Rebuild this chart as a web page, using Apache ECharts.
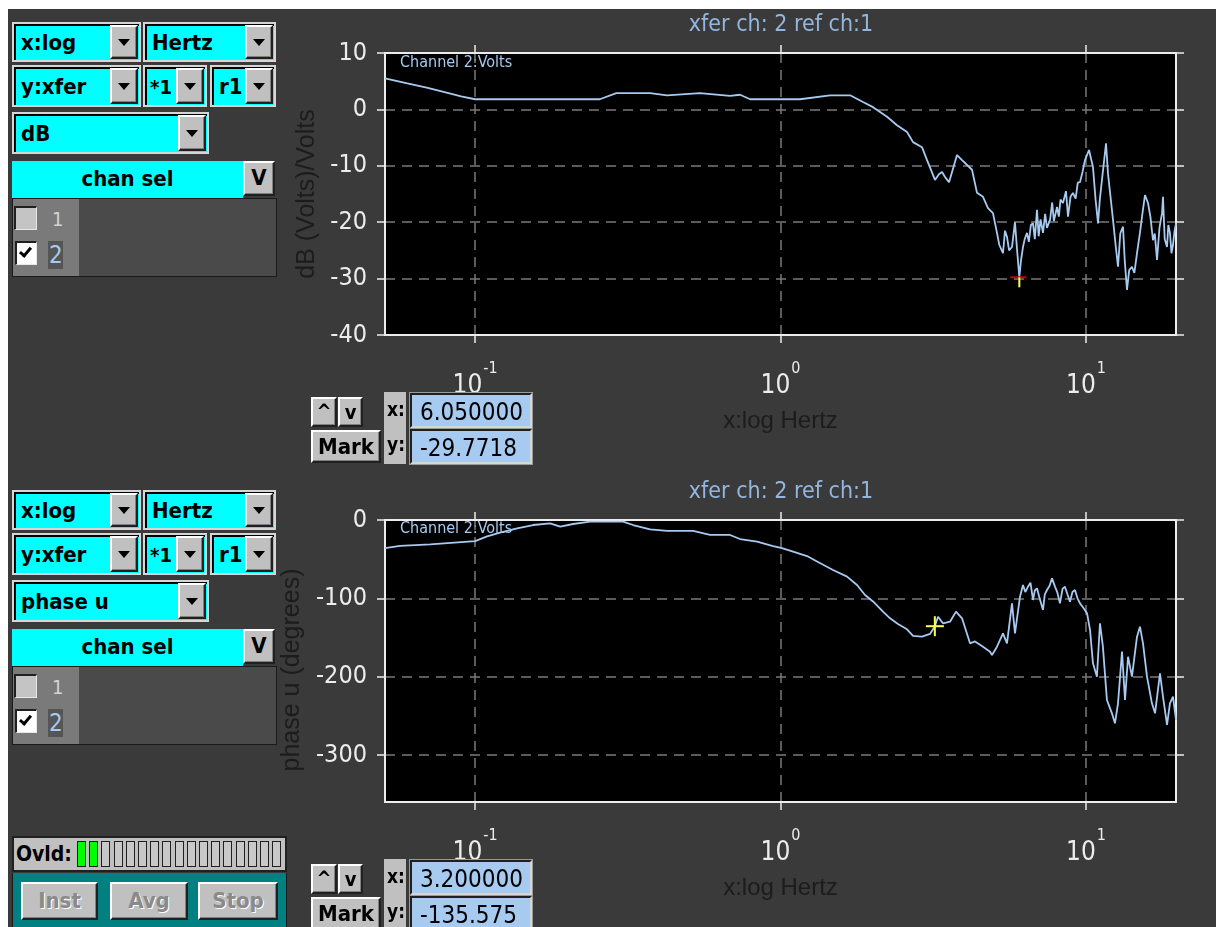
<!DOCTYPE html>
<html>
<head>
<meta charset="utf-8">
<title>xfer ch: 2 ref ch:1</title>
<script src="https://cdn.jsdelivr.net/npm/echarts@6/dist/echarts.min.js"></script>
<style>
  html, body { margin: 0; padding: 0; width: 1223px; height: 927px; overflow: hidden; background: #ffffff; }
  #frame { position: absolute; left: 8px; top: 9px; width: 1208px; height: 918px; background: #3a3a3a; }
  #chart { position: absolute; left: 0; top: 0; width: 1223px; height: 927px; }
  .ui { position: absolute; box-sizing: border-box; font-family: 'Liberation Sans Narrow', 'DejaVu Sans Condensed', sans-serif; font-weight: bold; color: #000; }
  .frame { background: #d6d6d6; }
  .well { position: absolute; left: 2px; top: 2px; right: 2px; bottom: 2px; background: #00ffff; border-top: 2px solid #000; border-left: 2px solid #000; box-sizing: border-box; }
  .btn { position: absolute; box-sizing: border-box; background: #c0c0c0; border: 2px solid; border-color: #ffffff #202020 #202020 #ffffff; box-shadow: inset -1px -1px 0 #808080; text-align: center; }
  .tri { position: absolute; left: 50%; top: 50%; width: 0; height: 0; margin-left: -6px; margin-top: -3px; border-left: 6px solid transparent; border-right: 6px solid transparent; border-top: 7px solid #000; }
  .txt { position: absolute; white-space: nowrap; }
</style>
</head>
<body>
<div id="frame"></div>
<div id="chart"></div>
<div id="ui"></div>
<script>
// ---------- data ----------
const freqMin = 0.0507;
const freqMax = 19.71;
const decadeTicks = [0.1, 1, 10];

// magnitude trace: frequency (Hz) and level (dB)
const magFreq = [
  0.0507, 0.06, 0.07, 0.08, 0.09, 0.1, 0.256, 0.29, 0.374, 0.425, 0.545, 0.683, 0.737, 0.795,
  1.158, 1.452, 1.689, 1.862, 2.008, 2.232, 2.406, 2.595, 2.715, 2.905, 3.017, 3.204, 3.30,
  3.378, 3.456, 3.562, 3.782, 3.928, 4.235, 4.398, 4.601, 4.777, 4.960, 5.112, 5.20, 5.349,
  5.43, 5.513, 5.60, 5.725, 5.855, 5.95, 6.05, 6.12, 6.219, 6.30, 6.409, 6.50, 6.60, 6.707,
  6.80, 6.912, 7.00, 7.10, 7.232, 7.35, 7.45, 7.625, 7.75, 7.85, 8.037, 8.15, 8.25, 8.408,
  8.60, 8.731, 8.90, 9.066, 9.25, 9.40, 9.559, 9.75, 9.925, 10.23, 10.54, 10.75, 10.95, 11.1,
  11.28, 11.63, 11.80, 12.26, 12.5, 12.73, 12.95, 13.22, 13.4, 13.62, 13.85, 14.14, 14.4,
  14.69, 15.02, 15.3, 15.60, 15.96, 16.25, 16.57, 16.8, 17.08, 17.4, 17.74, 17.87, 18.1,
  18.42, 18.6, 18.83, 19.05, 19.27, 19.5, 19.71
];
const magDb = [
  5.5, 4.6, 3.8, 3.0, 2.3, 1.8, 1.8, 2.9, 2.9, 2.5, 2.9, 2.4, 2.6, 1.8,
  1.8, 2.5, 2.5, 1.3, 0.4, -1.3, -2.8, -4.0, -5.8, -6.7, -9.0, -12.5, -11.5,
  -11.1, -12.0, -12.9, -8.1, -9.0, -10.7, -14.8, -15.5, -17.5, -18.4, -21.9, -24.0, -25.5,
  -21.5, -22.6, -25.0, -24.4, -20.0, -25.0, -29.7718, -27.0, -24.4, -23.0, -21.9, -23.5, -20.5, -20.2,
  -23.0, -17.8, -22.5, -19.5, -21.9, -18.5, -21.0, -19.6, -16.5, -19.8, -17.3, -19.0, -16.0, -16.6,
  -14.5, -19.0, -15.5, -14.8, -15.8, -13.0, -12.9, -11.0, -9.0, -7.2, -10.2, -16.0, -20.2, -16.0,
  -12.5, -6.0, -11.3, -19.6, -24.0, -27.9, -22.0, -20.8, -27.0, -32.0, -28.5, -27.9, -29.0,
  -25.5, -21.9, -18.5, -15.2, -16.6, -19.0, -23.2, -22.0, -26.7, -21.0, -18.4, -15.5, -23.0,
  -24.4, -20.5, -21.9, -25.5, -24.0, -21.5, -20.2
];

// unwrapped phase trace: frequency (Hz) and phase (degrees)
const phaseFreq = [
  0.0507, 0.0568, 0.0713, 0.1, 0.1095, 0.1207, 0.1373, 0.1548, 0.176, 0.19, 0.2093, 0.2379,
  0.3051, 0.329, 0.374, 0.4251, 0.5172, 0.5878, 0.6834, 0.7367, 0.8378, 0.9451, 1.011, 1.099,
  1.221, 1.317, 1.485, 1.651, 1.78, 1.891, 2.008, 2.165, 2.283, 2.424, 2.595, 2.715, 2.905,
  3.086, 3.2, 3.278, 3.403, 3.588, 3.754, 3.928, 4.172, 4.332, 4.601, 4.851, 4.924, 5.112,
  5.349, 5.513, 5.725, 5.855, 6.081, 6.219, 6.33, 6.458, 6.58, 6.707, 6.80, 6.912, 7.05, 7.232,
  7.33, 7.454, 7.60, 7.74, 7.916, 8.05, 8.219, 8.38, 8.535, 8.70, 8.864, 9.03, 9.204, 9.38,
  9.559, 9.8, 10.08, 10.31, 10.54, 10.86, 11.11, 11.36, 11.71, 12.16,
  12.44, 12.73, 13.12, 13.42, 13.73, 14.14, 14.69, 15.02, 15.37, 15.84, 16.44, 16.83, 17.47,
  17.87, 18.42, 18.83, 19.27, 19.71
];
const phaseDeg = [
  -36, -33, -31, -27, -21, -16, -10.6, -6.4, -4.3, -8.5, -5.1, -2.1,
  -2.1, -6.4, -11.9, -14, -14, -19.1, -19.1, -24.3, -27.7, -33.2, -36, -40.4,
  -46, -53, -63.8, -72.3, -83, -95.7, -104, -117, -125.5, -132.8, -139.5, -148, -149,
  -145.5, -135.575, -123.4, -131.9, -129.8, -117, -125.5, -157.4, -155, -161.7, -168.1, -172.3, -161.7,
  -144.7, -157.4, -106.4, -144.7, -97.9, -83, -92, -85.1, -80, -102.1, -90, -87.2, -100, -114.9,
  -95, -89.4, -84, -74.5, -85.1, -92, -106.4, -88, -85.1, -95, -104.3, -92, -89.4, -100,
  -106.4, -112, -119.1, -140.4, -183, -200, -131.9, -161.7, -229.8, -246.8,
  -259.5, -234, -168.1, -229.8, -174.5, -200, -149, -136.2, -157.4, -200, -234, -246.8, -195.7,
  -225.5, -261.7, -234, -225.5, -255.3
];

// cursor readouts
const magMark = [6.05, -29.7718];
const phaseMark = [3.2, -135.575];
const phaseTicks = [0, -100, -200, -300];

// ---------- styling ----------
const NARROW = "'Liberation Sans Narrow', 'DejaVu Sans Condensed', sans-serif";
const SANS = "'Liberation Sans', 'DejaVu Sans', sans-serif";
const WHITE = '#ececec';
const TRACE = '#a6caf0';
const TITLE = '#93b6de';
const GRID_COLOR = '#7a7a7a';

const gridTop = { left: 385, top: 53, width: 791, height: 282 };
const gridBot = { left: 385, top: 520, width: 791, height: 282 };

const dash = { show: true, lineStyle: { color: GRID_COLOR, type: [10, 7], width: 1.5 } };

function decadeLabel(v) {
  const e = Math.round(Math.log10(v));
  return '{b|10}{s|' + e + '}';
}

function xAxisPair(gridIndex) {
  return [
    {
      type: 'log', logBase: 10, gridIndex, position: 'bottom', min: freqMin, max: freqMax,
      axisLine: { show: true, onZero: false, lineStyle: { color: WHITE, width: 2 } },
      axisTick: { show: true, inside: false, length: 8, customValues: decadeTicks, lineStyle: { color: WHITE, width: 1.5 } },
      minorTick: { show: false },
      axisLabel: {
        show: true, margin: 26, customValues: decadeTicks, formatter: decadeLabel,
        rich: {
          b: { fontSize: 26, fontFamily: NARROW, color: WHITE, lineHeight: 38, verticalAlign: 'bottom' },
          s: { fontSize: 16, fontFamily: NARROW, color: WHITE, lineHeight: 38, verticalAlign: 'top', padding: [0, 0, 0, 1] }
        }
      },
      splitLine: dash,
      name: 'x:log Hertz', nameLocation: 'middle', nameGap: 74,
      nameTextStyle: { color: '#1c1c1c', fontSize: 24, fontFamily: SANS }
    },
    {
      type: 'log', logBase: 10, gridIndex, position: 'top', min: freqMin, max: freqMax,
      axisLine: { show: true, onZero: false, lineStyle: { color: WHITE, width: 2 } },
      axisTick: { show: true, inside: false, length: 8, customValues: decadeTicks, lineStyle: { color: WHITE, width: 1.5 } },
      minorTick: { show: false },
      axisLabel: { show: false },
      splitLine: { show: false }
    }
  ];
}

const yLabel = { show: true, margin: 18, color: WHITE, fontSize: 25, fontFamily: NARROW };
const yLine = { show: true, onZero: false, lineStyle: { color: WHITE, width: 2 } };
const yTick = { show: true, inside: false, length: 8, lineStyle: { color: WHITE, width: 1.5 } };

function crossTop(params, api) {
  const p = api.coord([api.value(0), api.value(1)]);
  return {
    type: 'group',
    children: [
      { type: 'line', shape: { x1: p[0] - 9, y1: p[1], x2: p[0] + 7, y2: p[1] }, style: { stroke: '#c80000', lineWidth: 2 } },
      { type: 'line', shape: { x1: p[0], y1: p[1], x2: p[0], y2: p[1] + 10 }, style: { stroke: '#ffff50', lineWidth: 2 } }
    ]
  };
}
function crossBot(params, api) {
  const p = api.coord([api.value(0), api.value(1)]);
  return {
    type: 'group',
    children: [
      { type: 'line', shape: { x1: p[0] - 9, y1: p[1], x2: p[0] + 9, y2: p[1] }, style: { stroke: '#ffff50', lineWidth: 2 } },
      { type: 'line', shape: { x1: p[0], y1: p[1] - 10, x2: p[0], y2: p[1] + 10 }, style: { stroke: '#ffff50', lineWidth: 2 } }
    ]
  };
}

const magData = magFreq.map((f, i) => [f, magDb[i]]);
const phaseData = phaseFreq.map((f, i) => [f, phaseDeg[i]]);

const titleStyle = { color: TITLE, fontSize: 23, fontWeight: 'normal', fontFamily: NARROW };

const option = {
  animation: false,
  backgroundColor: 'transparent',
  title: [
    { text: 'xfer ch: 2 ref ch:1', left: 776, top: 9, textAlign: 'center', textStyle: titleStyle },
    { text: 'xfer ch: 2 ref ch:1', left: 776, top: 476, textAlign: 'center', textStyle: titleStyle }
  ],
  grid: [
    Object.assign({ show: true, backgroundColor: '#000000', borderWidth: 0 }, gridTop),
    Object.assign({ show: true, backgroundColor: '#000000', borderWidth: 0 }, gridBot)
  ],
  xAxis: [].concat(xAxisPair(0), xAxisPair(1)),
  yAxis: [
    { type: 'value', gridIndex: 0, position: 'left', min: -40, max: 10, interval: 10,
      axisLine: yLine, axisTick: yTick, axisLabel: yLabel, splitLine: dash,
      name: 'dB (Volts)/Volts', nameLocation: 'middle', nameGap: 58,
      nameTextStyle: { color: '#1c1c1c', fontSize: 25, fontFamily: SANS } },
    { type: 'value', gridIndex: 0, position: 'right', min: -40, max: 10, interval: 10,
      axisLine: yLine, axisTick: yTick, axisLabel: { show: false }, splitLine: { show: false } },
    { type: 'value', gridIndex: 1, position: 'left', min: -360, max: 0,
      axisLine: yLine,
      axisTick: Object.assign({ customValues: phaseTicks }, yTick),
      axisLabel: Object.assign({ customValues: phaseTicks }, yLabel),
      splitLine: dash,
      name: 'phase u (degrees)', nameLocation: 'middle', nameGap: 63,
      nameTextStyle: { color: '#1c1c1c', fontSize: 25, fontFamily: SANS, padding: [0, 18, 0, 0] } },
    { type: 'value', gridIndex: 1, position: 'right', min: -360, max: 0,
      axisLine: yLine,
      axisTick: Object.assign({ customValues: phaseTicks }, yTick),
      axisLabel: { show: false }, splitLine: { show: false } }
  ],
  graphic: [
    { type: 'text', left: 400, top: 55, style: { text: 'Channel 2:Volts', fill: TRACE, font: "16px " + NARROW } },
    { type: 'text', left: 400, top: 521, style: { text: 'Channel 2:Volts', fill: TRACE, font: "16px " + NARROW } }
  ],
  series: [
    { type: 'line', xAxisIndex: 0, yAxisIndex: 0, data: magData, showSymbol: false, clip: true,
      lineStyle: { color: TRACE, width: 1.8 } },
    { type: 'custom', xAxisIndex: 0, yAxisIndex: 0, data: [magMark], renderItem: crossTop, z: 5 },
    { type: 'line', xAxisIndex: 2, yAxisIndex: 2, data: phaseData, showSymbol: false, clip: true,
      lineStyle: { color: TRACE, width: 1.8 } },
    { type: 'custom', xAxisIndex: 2, yAxisIndex: 2, data: [phaseMark], renderItem: crossBot, z: 5 }
  ]
};

const chart = echarts.init(document.getElementById('chart'), null, { renderer: 'canvas', width: 1223, height: 927 });
chart.setOption(option);

// ---------- instrument control panels ----------
const ui = document.getElementById('ui');
function el(cls, x, y, w, h, css) {
  const d = document.createElement('div');
  d.className = cls;
  d.style.left = x + 'px'; d.style.top = y + 'px';
  if (w != null) d.style.width = w + 'px';
  if (h != null) d.style.height = h + 'px';
  if (css) d.style.cssText += css;
  return d;
}
function text(parent, t, x, y, css) {
  const s = el('txt', x, y, null, null, css);
  s.textContent = t;
  parent.appendChild(s);
  return s;
}
function dropdown(x, y, w, h, label, size) {
  const box = el('ui frame', x, y, w, h);
  const well = document.createElement('div');
  well.className = 'well';
  box.appendChild(well);
  text(well, label, size ? 3 : 5, (h - 4 - 2 - 26) / 2, 'font-size:' + (size || 22) + 'px;line-height:26px;');
  const b = el('btn', w - 31, 3, 28, h - 6);
  const t = document.createElement('div'); t.className = 'tri'; b.appendChild(t);
  box.appendChild(b);
  ui.appendChild(box);
}
function controlPanel(oy, mode) {
  dropdown(12, oy + 22, 129, 40, 'x:log');
  dropdown(143, oy + 22, 133, 40, 'Hertz');
  dropdown(12, oy + 65, 129, 42, 'y:xfer');
  dropdown(143, oy + 65, 64, 42, '*1', 20);
  dropdown(210, oy + 65, 66, 42, 'r1');
  dropdown(12, oy + 112, 197, 42, mode);
  // channel selector header
  const sel = el('ui', 12, oy + 161, 231, 37, 'background:#00ffff;');
  text(sel, 'chan sel', 0, 5, 'width:231px;text-align:center;font-size:22px;line-height:26px;');
  ui.appendChild(sel);
  const v = el('ui btn', 243, oy + 161, 32, 35);
  text(v, 'V', 0, 2, 'width:28px;text-align:center;font-size:22px;line-height:26px;');
  ui.appendChild(v);
  // channel list
  const list = el('ui', 12, oy + 198, 265, 79, 'background:#4a4a4a;border:1px solid #1a1a1a;');
  list.appendChild(el('ui', 0, 0, 66, 77, 'background:#7a7a7a;'));
  list.appendChild(el('ui', 1, 7, 23, 24, 'background:#c4c4c4;border-top:2px solid #202020;border-left:2px solid #202020;border-right:1px solid #e8e8e8;border-bottom:1px solid #e8e8e8;'));
  text(list, '1', 39, 8, 'font-weight:normal;color:#d4d4d4;font-size:20px;line-height:24px;');
  const cb = el('ui', 2, 42, 22, 24, 'background:#ffffff;border-top:2px solid #202020;border-left:2px solid #202020;border-right:1px solid #e8e8e8;border-bottom:1px solid #e8e8e8;');
  cb.appendChild(el('ui', 5, 2, 7, 12, 'border-right:3px solid #000;border-bottom:3px solid #000;transform:rotate(40deg);'));
  list.appendChild(cb);
  const two = el('ui', 35, 42, 15, 28, 'background:#555555;');
  text(two, '2', 1, 1, 'font-weight:normal;color:#a6caf0;font-size:24px;line-height:26px;');
  list.appendChild(two);
  ui.appendChild(list);
}
function markPanel(oy, mark) {
  const up = el('ui btn', 311, oy + 397, 26, 30);
  text(up, '^', 0, 1, 'width:22px;text-align:center;font-size:20px;line-height:22px;');
  ui.appendChild(up);
  const dn = el('ui btn', 338, oy + 397, 25, 30);
  text(dn, 'v', 0, 2, 'width:21px;text-align:center;font-size:20px;line-height:22px;');
  ui.appendChild(dn);
  const mk = el('ui btn', 311, oy + 430, 70, 33);
  text(mk, 'Mark', 0, 2, 'width:66px;text-align:center;font-size:22px;line-height:26px;');
  ui.appendChild(mk);
  const col = el('ui', 384, oy + 392, 22, 72, 'background:#c0c0c0;');
  text(col, 'x:', 3, 6, 'font-size:19px;line-height:22px;');
  text(col, 'y:', 3, 41, 'font-size:19px;line-height:22px;');
  ui.appendChild(col);
  const boxCss = 'background:#a6caf0;border-top:2px solid #202020;border-left:2px solid #202020;border-right:2px solid #d6d6d6;border-bottom:2px solid #d6d6d6;outline:1px solid #9a9a9a;';
  const xb = el('ui', 410, oy + 393, 122, 35, boxCss);
  text(xb, mark[0].toFixed(6), 8, 3, 'font-weight:normal;font-size:24px;line-height:28px;');
  ui.appendChild(xb);
  const yb = el('ui', 410, oy + 429, 122, 35, boxCss);
  text(yb, String(mark[1]), 8, 3, 'font-weight:normal;font-size:24px;line-height:28px;');
  ui.appendChild(yb);
}

controlPanel(0, 'dB');
controlPanel(468, 'phase u');
markPanel(0, magMark);
markPanel(467, phaseMark);

// overload meter
const ovld = el('ui', 12, 836, 275, 36, 'background:#c0c0c0;border:2px solid #202020;');
text(ovld, 'Ovld:', 2, 4, 'font-size:21px;line-height:24px;');
const meterLevels = [1, 1, 0, 0, 0, 0, 0, 0, 0, 0, 0, 0, 0, 0, 0, 0, 0];
meterLevels.forEach((on, i) => {
  ovld.appendChild(el('ui', 63 + i * 12.2, 3, 9, 26,
    'border:1px solid #202020;background:' + (on ? '#00ff00' : '#c8c8c8') + ';'));
});
ui.appendChild(ovld);

// run controls
const run = el('ui', 12, 873, 275, 54, 'background:#008080;border-left:1px solid #1a1a1a;border-right:1px solid #1a1a1a;');
[['Inst', 8, 77], ['Avg', 97, 78], ['Stop', 185, 80]].forEach(([t, x, w]) => {
  const b = el('ui btn', x, 9, w, 38);
  text(b, t, 0, 4, 'width:' + (w - 4) + 'px;text-align:center;font-size:22px;line-height:26px;color:#8a8a8a;text-shadow:1px 1px 0 #ffffff;');
  run.appendChild(b);
});
ui.appendChild(run);
</script>
</body>
</html>
